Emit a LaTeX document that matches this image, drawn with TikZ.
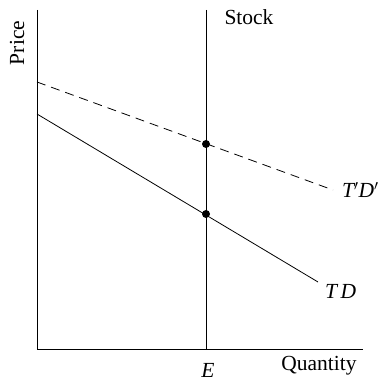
\documentclass[tikz,border=0pt]{standalone}
\usepackage{fontspec}
\setmainfont{Liberation Serif}
\usetikzlibrary{arrows.meta,positioning,calc}
\definecolor{axink}{HTML}{000000}
\tikzset{
  ax/.style={draw=axink, line width=0.9pt},
  curve/.style={draw=axink, line width=0.8pt},
  dcurve/.style={curve, dash pattern=on 9pt off 6pt},
  dot/.style={circle, fill=axink, inner sep=0pt, minimum size=8pt},
  lbl/.style={font=\fontsize{21.5}{23}\selectfont, inner sep=0pt},
  mlbl/.style={lbl, font=\fontsize{21.5}{23}\selectfont\itshape},
}
\begin{document}
\begin{tikzpicture}[x=1pt,y=-1pt]
      \useasboundingbox (0,0) rectangle (386,382);
      % axes and stock line
      \coordinate (o) at (37,349);
      \coordinate (ytop) at (37,10);
      \coordinate (xend) at (363,349);
      \coordinate (stop) at (206,10);
      \coordinate (sbot) at (206,349);
      \draw[ax] (ytop) -- (o) -- (xend);
      \draw[ax] (stop) -- (sbot);
      % demand curves
      \coordinate (d1a) at (37,82);  \coordinate (d1b) at (333,190);
      \coordinate (d0a) at (37,114); \coordinate (d0b) at (318,282);
      \draw[dcurve] (d1a) -- (d1b);
      \draw[curve] (d0a) -- (d0b);
      \node[dot] (p1) at (206,144) {};
      \node[dot] (p0) at (206,214) {};
      % labels
      \node[lbl, rotate=90] (price) at (17,43) {Price};
      \node[lbl] (stock) at (249,17) {Stock};
      \node[lbl] (qty) at (319,366) {Quantity};
      \node[mlbl] (e) at (208,370) {E};
      \node[mlbl, anchor=west] (tdp) at (342,190) {T$'$D$'$};
      \node[mlbl, anchor=west] (td) at (325,291) {T\,D};
    \end{tikzpicture}
\end{document}
